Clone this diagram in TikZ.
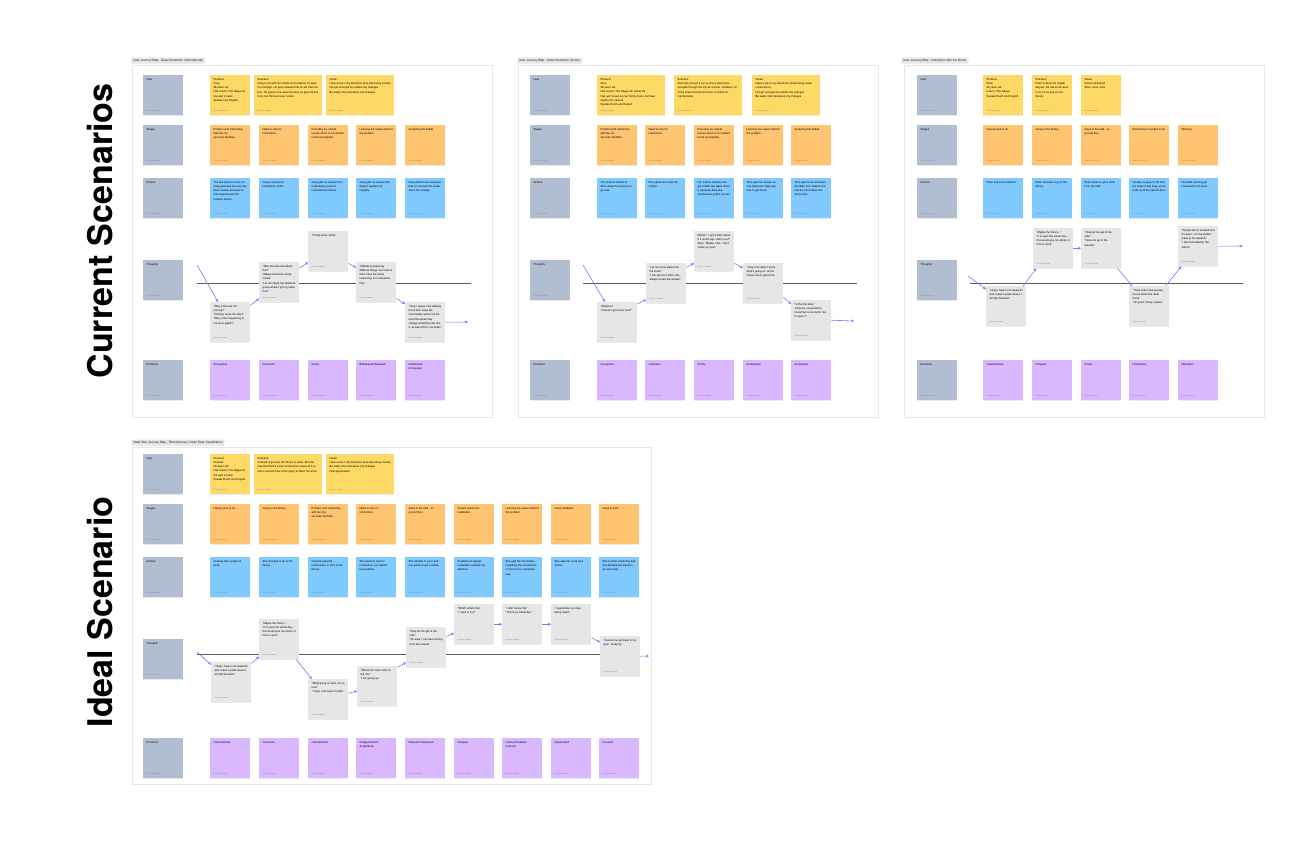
\documentclass[tikz,border=0pt]{standalone}
\usepackage{fontspec}
\setmainfont{TeX Gyre Heros}
\usetikzlibrary{
    arrows.meta,
    shadows
}

\definecolor{labelgrey}{HTML}{B1BDD1}
\definecolor{noteyellow}{HTML}{FFD966}
\definecolor{noteorange}{HTML}{FFC470}
\definecolor{noteblue}{HTML}{80CAFF}
\definecolor{notepurple}{HTML}{D9B8FF}
\definecolor{notegrey}{HTML}{E6E6E6}
\definecolor{flowpurple}{HTML}{A266FF}
\definecolor{framegrey}{HTML}{E8E8E8}
\definecolor{tabgrey}{HTML}{E6E6E6}
\definecolor{linegrey}{HTML}{5C5C5C}
\definecolor{authorgrey}{HTML}{8A8A8A}

\newcommand{\noteauthor}{{\color{authorgrey}\fontsize{1.9pt}{2.2pt}\selectfont Kristina Ivanova}}
\newcommand{\notebody}[2][33pt]{\parbox[t][33pt][t]{#1}{\raggedright #2\par\vfill\noteauthor}}

\begin{document}
\begin{tikzpicture}[
    x=1pt, y=-1pt,
    every node/.style={font=\fontsize{2.7pt}{4.1pt}\selectfont},
    board/.style={rectangle, anchor=north west, fill=white, draw=framegrey, line width=0.6pt},
    board_tab/.style={rectangle, anchor=north west, fill=tabgrey, rounded corners=1pt, inner xsep=2pt, inner ysep=1.5pt, text=black!85, font=\fontsize{3.1pt}{3.4pt}\selectfont},
    note/.style={rectangle, anchor=north west, inner sep=3.5pt, drop shadow={opacity=0.16, shadow xshift=0pt, shadow yshift=-0.6pt}},
    row_label/.style={note, fill=labelgrey},
    persona/.style={note, fill=noteyellow},
    stage/.style={note, fill=noteorange},
    action/.style={note, fill=noteblue},
    thought/.style={note, fill=notegrey},
    emotion/.style={note, fill=notepurple},
    timeline/.style={draw=linegrey, line width=0.8pt},
    arrow/.style={draw=flowpurple, line width=0.6pt, -{Stealth[length=3pt, width=3pt]}},
    tiny_mark/.style={text=authorgrey, font=\fontsize{2pt}{2.4pt}\selectfont, inner sep=0.3pt},
    big_title/.style={font=\fontsize{34pt}{40pt}\selectfont\bfseries, rotate=90}
]

\useasboundingbox[fill=white] (0,0) rectangle (1313,844);

\node[big_title] (current_title) at (100,231) {Current Scenarios};
\node[big_title] (ideal_title) at (100,612) {Ideal Scenario};

% boards
\node[board, minimum width=360, minimum height=352] (lboard) at (132,65) {};
\node[board, minimum width=360, minimum height=352] (mboard) at (518,65) {};
\node[board, minimum width=360, minimum height=352] (rboard) at (904,65) {};
\node[board, minimum width=519, minimum height=337] (iboard) at (132,447) {};
\node[board_tab] (ltab) at (131,57.5) {User Journey Map - Data Interaction (International)};
\node[board_tab] (mtab) at (517,57.5) {User Journey Map - Data Interaction (Dutch)};
\node[board_tab] (rtab) at (901,57.5) {User Journey Map - Interaction with the library};
\node[board_tab] (itab) at (131,439.5) {Ideal User Journey Map - Revolutionary Urban Data Visualization};

\foreach \b/\bx in {l/143, m/530, r/917} {
    \foreach \y/\n/\txt in {75/user/User, 125/stages/Stages, 178/actions/Actions, 260/thoughts/Thoughts, 360/emotions/Emotions} {
        \node[row_label] (\b\n) at (\bx,\y) {\notebody{\txt}};
    }
}
\foreach \y/\n/\txt in {454/user/User, 504/stages/Stages, 557/actions/Actions, 639/thoughts/Thoughts, 738/emotions/Emotions} {
    \node[row_label] (i\n) at (143,\y) {\notebody{\txt}};
}

% timelines
\coordinate (lline_a) at (197,283); \coordinate (lline_b) at (471,283);
\coordinate (mline_a) at (583,283); \coordinate (mline_b) at (857,283);
\coordinate (rline_a) at (970,283); \coordinate (rline_b) at (1243,283);
\coordinate (iline_a) at (197,654); \coordinate (iline_b) at (640,654);
\foreach \b in {l,m,r,i} {
    \draw[timeline] (\b line_a) -- (\b line_b);
}
\node[tiny_mark] (lmark) at (198,281) {1};
\node[tiny_mark] (mmark) at (584,281) {1};
\node[tiny_mark] (rmark) at (971,281) {1};
\node[tiny_mark] (imark) at (198,661) {1};

% ---- international
\node[persona] (lpersona) at (210,75) {\notebody{Persona:\\ Greg\\ 28 years old\\ Has lived in The Hague for the past 2 years\\ Speaks only English}};
\node[persona] (lscenario) at (254,75) {\notebody[61pt]{Scenario:\\ Greg is out with his friends and suddenly he sees it's midnight. He gets stressed that he will miss his bus. He goes to the usual bus stop he gets his bus from, but the bus never comes.}};
\node[persona] (lgoals) at (326,75) {\notebody[61pt]{Goals:\\ Have a say in city decisions (bus stop being moved)\\ Not get annoyed by sudden city changes\\ Be easily informed about city changes}};
\foreach \x/\n/\txt in {
    210/1/{Problem with interacting with the city services\slash{} facilities.},
    259/2/{Need to look for information.},
    308/3/{Extruding an outside source which is not related to the municipality.},
    356/4/{Learning the reason behind the problem.},
    405/5/{Accepting the defeat.}} {
    \node[stage] (ls\n) at (\x,125) {\notebody{\txt}};
}
\foreach \x/\n/\txt in {
    210/1/{The bus doesn't come, so Greg assumes the stop has been moved, because he also experienced this problem before.},
    259/2/{Greg is looking for information online.},
    308/3/{Greg gets an answer from a facebook group for international citizens.},
    356/4/{Greg gets an answer and doesn't question its integrity.},
    405/5/{Greg walks home annoyed that no one told him earlier about the change.}} {
    \node[action] (la\n) at (\x,178) {\notebody{\txt}};
}
\node[thought] (lt1) at (210,302) {\notebody{"Why is the bus not coming?"\\ "Did they move the stop?"\\ "Why is this happening to me once again?"}};
\node[thought] (lt2) at (259,262) {\notebody{"Who should know about this?"\\ "Maybe someone online knows"\\ "Let me check the facebook group where I got my tasks from"}};
\node[thought] (lt3) at (308,231) {\notebody{"Finally some clarity"}};
\node[thought] (lt4) at (356,262) {\notebody{"Different people say different things, but most of them have the same reasoning, so it should be fine."}};
\node[thought] (lt5) at (405,302) {\notebody{"Okay I guess I am walking home but I hope the municipality warns me the next time when they change something like this or at least inform me better"}};
\foreach \x/\n/\txt in {
    210/1/{Annoyance},
    259/2/{Confusion},
    308/3/{Clarity},
    356/4/{Bittersweet (Relieved)},
    405/5/{Indifference\\ Annoyance}} {
    \node[emotion] (le\n) at (\x,360) {\notebody{\txt}};
}
\coordinate (lstart) at (197,265);
\coordinate (lend) at (468,322);
\draw[arrow] (lstart) -- (lt1.121);
\draw[arrow] (lt1.40) -- (lt2.219);
\draw[arrow] (lt2.35) -- (lt3.209);
\draw[arrow] (lt3.329) -- (lt4.144);
\draw[arrow] (lt4.321) -- (lt5.138);
\draw[arrow] (lt5.east) -- (lend);

% ---- dutch
\node[persona] (mpersona) at (597,75) {\notebody[61pt]{Persona:\\ Alice\\ 25 years old\\ Has lived in The Hague her whole life\\ Has just moved out her family home, but lives nearby her parents\\ Speaks Dutch and English}};
\node[persona] (mscenario) at (674,75) {\notebody[61pt]{Scenario:\\ Alice has just got a car so she is learning to navigate through the city as a driver. Suddenly on of the street around her home is closed for maintenance.}};
\node[persona] (mgoals) at (752,75) {\notebody[61pt]{Goals:\\ Have a say in city decisions (street being under construction)\\ Not get annoyed by sudden city changes\\ Be easily informed about city changes}};
\foreach \x/\n/\txt in {
    597/1/{Problem with interacting with the city services\slash{} facilities.},
    645/2/{Need to look for information.},
    694/3/{Extruding an outside source which is not related to the municipality.},
    743/4/{Learning the reason behind the problem.},
    791/5/{Accepting the defeat.}} {
    \node[stage] (ms\n) at (\x,125) {\notebody{\txt}};
}
\foreach \x/\n/\txt in {
    597/1/{The street is closed so Alice doesn't know how to go now.},
    645/2/{She panics and calls her mother.},
    694/3/{Her mother explains she got a letter last week about it, because Alice she should have gotten one too.},
    743/4/{Alice gets her answer so she check her maps app how to get home.},
    791/5/{Alice gets home and sees the letter and realizes she had the information the whole time.}} {
    \node[action] (ma\n) at (\x,178) {\notebody{\txt}};
}
\node[thought] (mt1) at (597,302) {\notebody{"Attention!"\\ "How do I get home now?"}};
\node[thought] (mt2) at (646,263) {\notebody{"Let me move away from the street"\\ "I will call my mother, she always knows the answer"}};
\node[thought] (mt3) at (694,231) {\notebody{Mother: "I got a letter about it a month ago, didn't you?"\\ Alice: "Maybe I did, I don't check my post."}};
\node[thought] (mt4) at (743,263) {\notebody{"Okay now when I know what's going on, let me check how to get home"}};
\node[thought] (mt5) at (791,300) {\notebody{"Is this the letter"\\ "How am I expected to know that is crucial for me to open it"}};
\foreach \x/\n/\txt in {
    597/1/{Annoyance},
    645/2/{Confusion},
    694/3/{Clarity},
    743/4/{Acceptance},
    791/5/{Annoyance}} {
    \node[emotion] (me\n) at (\x,360) {\notebody{\txt}};
}
\coordinate (mstart) at (583,265);
\coordinate (mend) at (854,321);
\draw[arrow] (mstart) -- (mt1.121);
\draw[arrow] (mt1.42) -- (mt2.219);
\draw[arrow] (mt2.38) -- (mt3.211);
\draw[arrow] (mt3.329) -- (mt4.143);
\draw[arrow] (mt4.325) -- (mt5.141);
\draw[arrow] (mt5.east) -- (mend);

% ---- library
\node[persona] (rpersona) at (983,75) {\notebody{Persona:\\ Peter\\ 25 years old\\ Lives in The Hague\\ Speaks Dutch and English}};
\node[persona] (rscenario) at (1032,75) {\notebody{Scenario:\\ Peter is doing his master degree. He has some work to do so he goes to the library.}};
\node[persona] (rgoals) at (1081,75) {\notebody{Goals:\\ Not be distracted\\ Work, work, work}};
\foreach \x/\n/\txt in {
    983/1/{Having work to do.},
    1032/2/{Going to the library.},
    1081/3/{Goes to the caf\'e - on ground floor.},
    1129/4/{Searching for a place to sit.},
    1178/5/{Working.}} {
    \node[stage] (rs\n) at (\x,125) {\notebody{\txt}};
}
\foreach \x/\n/\txt in {
    983/1/{Peter has to do research.},
    1032/2/{Peter chooses to go to the library.},
    1081/3/{Peter wants to get a drink from the caf\'e.},
    1129/4/{Usually he goes to 4th floor but today it was busy, so he ends up at the second floor.},
    1178/5/{He starts working get immersed in his work.}} {
    \node[action] (ra\n) at (\x,178) {\notebody{\txt}};
}
\node[thought] (rt1) at (986,286) {\notebody{"Okay I have to do research and I need a place where I will feel focused."}};
\node[thought] (rt2) at (1033,228) {\notebody{"Maybe the library..."\\ "It is open the whole day -- this would give me plenty of time to work"}};
\node[thought] (rt3) at (1081,228) {\notebody{"Okay let me get to the caf\'e"\\ "Now let's go to the elevator"}};
\node[thought] (rt4) at (1129,286) {\notebody{"There aren't free spaces, let me check the other floors"\\ "Oh good, finally a place"}};
\node[thought] (rt5) at (1178,226) {\notebody{"People are so focused and it's quiet -- it's the perfect place to do research"\\ "I feel motivated by the others"}};
\foreach \x/\n/\txt in {
    983/1/{Overwhelmed},
    1032/2/{Intrigued},
    1081/3/{Clarity},
    1129/4/{Uncertainty},
    1178/5/{Motivation}} {
    \node[emotion] (re\n) at (\x,360) {\notebody{\txt}};
}
\coordinate (rstart) at (968,276);
\coordinate (rend) at (1243,246);
\draw[arrow] (rstart) -- (rt1.140);
\draw[arrow] (rt1.50) -- (rt2.230);
\draw[arrow] (rt2.east) -- (rt3.west);
\draw[arrow] (rt3.309) -- (rt4.130);
\draw[arrow] (rt4.51) -- (rt5.230);
\draw[arrow] (rt5.east) -- (rend);

% ---- ideal
\node[persona] (ipersona) at (210,454) {\notebody{Persona:\\ Clarissa\\ 23 years old\\ Has lived in The Hague for the past 6 years\\ Speaks Dutch and English}};
\node[persona] (iscenario) at (254,454) {\notebody[61pt]{Scenario:\\ Clarissa is going to the library to study. But she saw that there's some construction where at it so she is worried how is this going to affect her work.}};
\node[persona] (igoals) at (326,454) {\notebody[61pt]{Goals:\\ Have a say in city decisions (bus stop being moved)\\ Be easily informed about city changes\\ Feel appreciated}};
\foreach \x/\n/\txt in {
    210/1/{Having work to do.},
    259/2/{Going to the library.},
    308/3/{Problem with interacting with the city services\slash{} facilities.},
    356/4/{Need to look for information.},
    405/5/{Goes to the caf\'e - on ground floor.},
    454/6/{Comes across the installation.},
    502/7/{Learning the reason behind the problem.},
    551/8/{Gives feedback},
    599/9/{Goes to work}} {
    \node[stage] (is\n) at (\x,504) {\notebody{\txt}};
}
\foreach \x/\n/\txt in {
    210/1/{Clarissa has a paper to write.},
    259/2/{She chooses to go to the library.},
    308/3/{Clarissa sees the construction in front of the library.},
    356/4/{She wants to look for information, but doesn't know where.},
    405/5/{She decides to go in and she wants to get a coffee.},
    454/6/{Suddenly an design installation catches her attention.},
    502/7/{She gets the information regarding the construction in front of in a interactive way.},
    551/8/{She uses her voice as a citizen.},
    599/9/{She is done interacting and she decides she wants to go and study.}} {
    \node[action] (ia\n) at (\x,557) {\notebody{\txt}};
}
\node[thought] (it1) at (211,662) {\notebody{"Okay I have to do research and I need a place where I will feel focused."}};
\node[thought] (it2) at (259,619) {\notebody{"Maybe the library..."\\ "It is open the whole day -- this would give me plenty of time to work"}};
\node[thought] (it3) at (308,679) {\notebody{"What going on here, it's so loud"\\ "I hope I can hear it inside"}};
\node[thought] (it4) at (357,666) {\notebody{"Where do I even look for the info"\\ "I am giving up"}};
\node[thought] (it5) at (406,627) {\notebody{"Okay let me get to the caf\'e"\\ "Oh wow, I can hear a thing from the outside"}};
\node[thought] (it6) at (454,604) {\notebody{"WOW, what's this"\\ "I need to try it"}};
\node[thought] (it7) at (502,604) {\notebody{"I didn't know this"\\ "This is so interactive"}};
\node[thought] (it8) at (551,604) {\notebody{"I appreciate my voice being heard"}};
\node[thought] (it9) at (600,636) {\notebody{"Now let me get back to my goal - studying"}};
\foreach \x/\n/\txt in {
    210/1/{Overwhelmed},
    259/2/{Confusion},
    308/3/{Overwhelmed},
    356/4/{Disappointment\\ Acceptance},
    405/5/{Relieved, Reassured},
    454/6/{Intrigued},
    502/7/{Overly stimulated\\ Involved},
    551/8/{Appreciated},
    599/9/{Focused}} {
    \node[emotion] (ie\n) at (\x,738) {\notebody{\txt}};
}
\coordinate (istart) at (197,652);
\coordinate (iend) at (649,656);
\draw[arrow] (istart) -- (it1.139);
\draw[arrow] (it1.43) -- (it2.221);
\draw[arrow] (it2.310) -- (it3.129);
\draw[arrow] (it3.17) -- (it4.194);
\draw[arrow] (it4.43) -- (it5.217);
\draw[arrow] (it5.28) -- (it6.204);
\draw[arrow] (it6.east) -- (it7.west);
\draw[arrow] (it7.east) -- (it8.west);
\draw[arrow] (it8.326) -- (it9.145);
\draw[arrow] (it9.east) -- (iend);

\end{tikzpicture}
\end{document}
